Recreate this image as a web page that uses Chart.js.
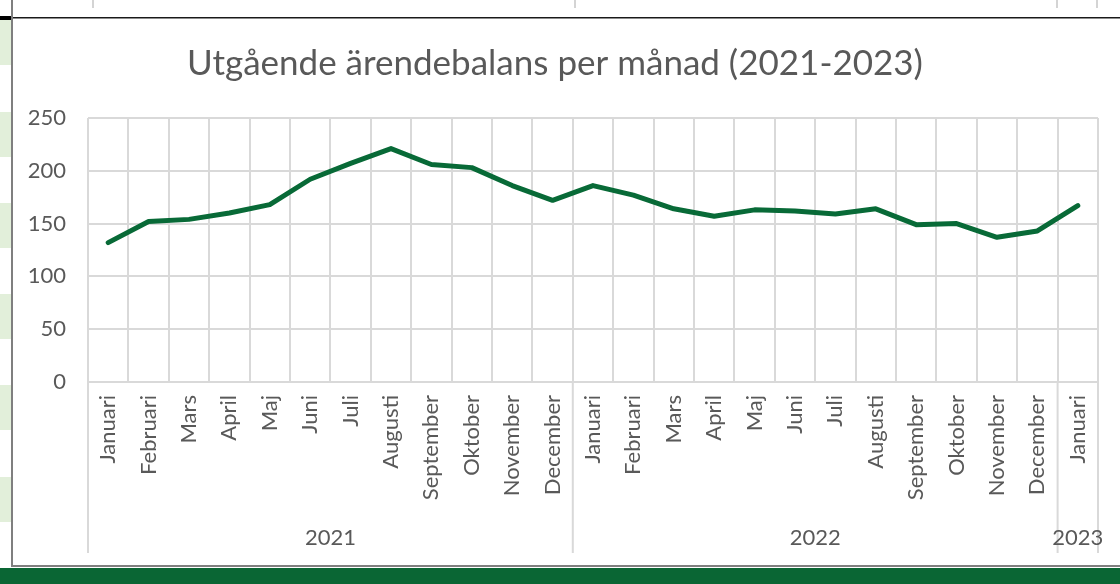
<!DOCTYPE html>
<html>
<head>
<meta charset="utf-8">
<script src="https://cdn.jsdelivr.net/npm/chart.js"></script>
<style>
  body { margin: 0; background: #ffffff; }
  canvas { display: block; }
</style>
</head>
<body>
<canvas id="lineChart" width="1120" height="584"></canvas>
<script>
var months = ["Januari", "Februari", "Mars", "April", "Maj", "Juni", "Juli", "Augusti", "September", "Oktober", "November", "December",
              "Januari", "Februari", "Mars", "April", "Maj", "Juni", "Juli", "Augusti", "September", "Oktober", "November", "December",
              "Januari"];
var years = ["2021", "2022", "2023"];
var monthsPerYear = [12, 12, 1];
var balance = [132, 152, 154, 160, 168, 192, 207, 221, 206, 203, 186, 172,
               186, 177, 164, 157, 163, 162, 159, 164, 149, 150, 137, 143,
               167];
var yTicks = [0, 50, 100, 150, 200, 250];

var textColor = "#595959";
var gridColor = "#d9d9d9";
var lineColor = "#086a37";

// spreadsheet bits around the chart box
const sheetBackground = {
  id: "sheetBackground",
  beforeDraw(chart) {
    const ctx = chart.ctx;
    ctx.save();
    ctx.fillStyle = "#ffffff";
    ctx.fillRect(0, 0, chart.width, chart.height);

    ctx.fillStyle = "#e2efda";
    [20, 112, 203, 294, 385, 477].forEach(function(y) {
      ctx.fillRect(0, y, 11, 45);
    });

    ctx.fillStyle = "#d4d4d4";
    [93, 575, 1057, 1097].forEach(function(x) {
      ctx.fillRect(x - 1, 0, 2, 8);
    });

    ctx.fillStyle = "#000000";
    ctx.fillRect(0, 16, 12, 4);
    ctx.fillStyle = "#1a1a1a";
    ctx.fillRect(12, 17, chart.width - 12, 1.5);

    ctx.fillStyle = "#7f7f7f";
    ctx.fillRect(11, 0, 2, 567);
    ctx.fillRect(11, 565, chart.width - 11, 2);

    ctx.fillStyle = "#0a6634";
    ctx.fillRect(0, 568, chart.width, chart.height - 568);
    ctx.restore();
  }
};

// second level of the category axis: year groups
const yearAxis = {
  id: "yearAxis",
  afterDraw(chart) {
    const ctx = chart.ctx;
    const x = chart.scales.x;
    const step = x.getPixelForValue(1) - x.getPixelForValue(0);
    const top = chart.chartArea.bottom;
    ctx.save();
    ctx.strokeStyle = gridColor;
    ctx.lineWidth = 2;
    ctx.fillStyle = textColor;
    ctx.font = "22px Lato";
    ctx.textAlign = "center";
    ctx.textBaseline = "middle";
    let start = 0;
    years.forEach(function(year, i) {
      const end = start + monthsPerYear[i] - 1;
      const left = x.getPixelForValue(start) - step / 2;
      const right = x.getPixelForValue(end) + step / 2;
      ctx.beginPath();
      if (i === 0) {
        ctx.moveTo(left, top);
        ctx.lineTo(left, 553);
      }
      ctx.moveTo(right, top);
      ctx.lineTo(right, 553);
      ctx.stroke();
      ctx.fillText(year, (left + right) / 2, 538);
      start = end + 1;
    });
    ctx.restore();
  }
};

Chart.defaults.font.family = "Lato";
Chart.defaults.color = textColor;

new Chart(document.getElementById("lineChart"), {
  type: "line",
  data: {
    labels: months,
    datasets: [{
      data: balance,
      borderColor: lineColor,
      borderWidth: 5,
      borderJoinStyle: "round",
      borderCapStyle: "round",
      pointRadius: 0,
      tension: 0,
      fill: false
    }]
  },
  options: {
    responsive: false,
    animation: false,
    layout: { padding: { left: 12, right: 22, top: 17, bottom: 18 } },
    plugins: {
      legend: { display: false },
      tooltip: { enabled: false },
      title: {
        display: true,
        text: "Utgående ärendebalans per månad (2021-2023)",
        color: textColor,
        font: { size: 35, weight: "normal" },
        padding: { top: 26, bottom: 33 }
      }
    },
    scales: {
      x: {
        offset: true,
        grid: { offset: true, color: gridColor, lineWidth: 2, drawTicks: false },
        border: { display: false },
        ticks: { autoSkip: false, minRotation: 90, maxRotation: 90, padding: 13, font: { size: 22 } },
        afterFit: function(scale) { scale.height = 184; }
      },
      y: {
        min: 0,
        max: 250,
        afterBuildTicks: function(scale) {
          scale.ticks = yTicks.map(function(v) { return { value: v }; });
        },
        grid: { color: gridColor, lineWidth: 2, drawTicks: false },
        border: { display: false },
        ticks: { padding: 22, font: { size: 22 } },
        afterFit: function(scale) { scale.width = 76; }
      }
    }
  },
  plugins: [sheetBackground, yearAxis]
});
</script>
</body>
</html>
